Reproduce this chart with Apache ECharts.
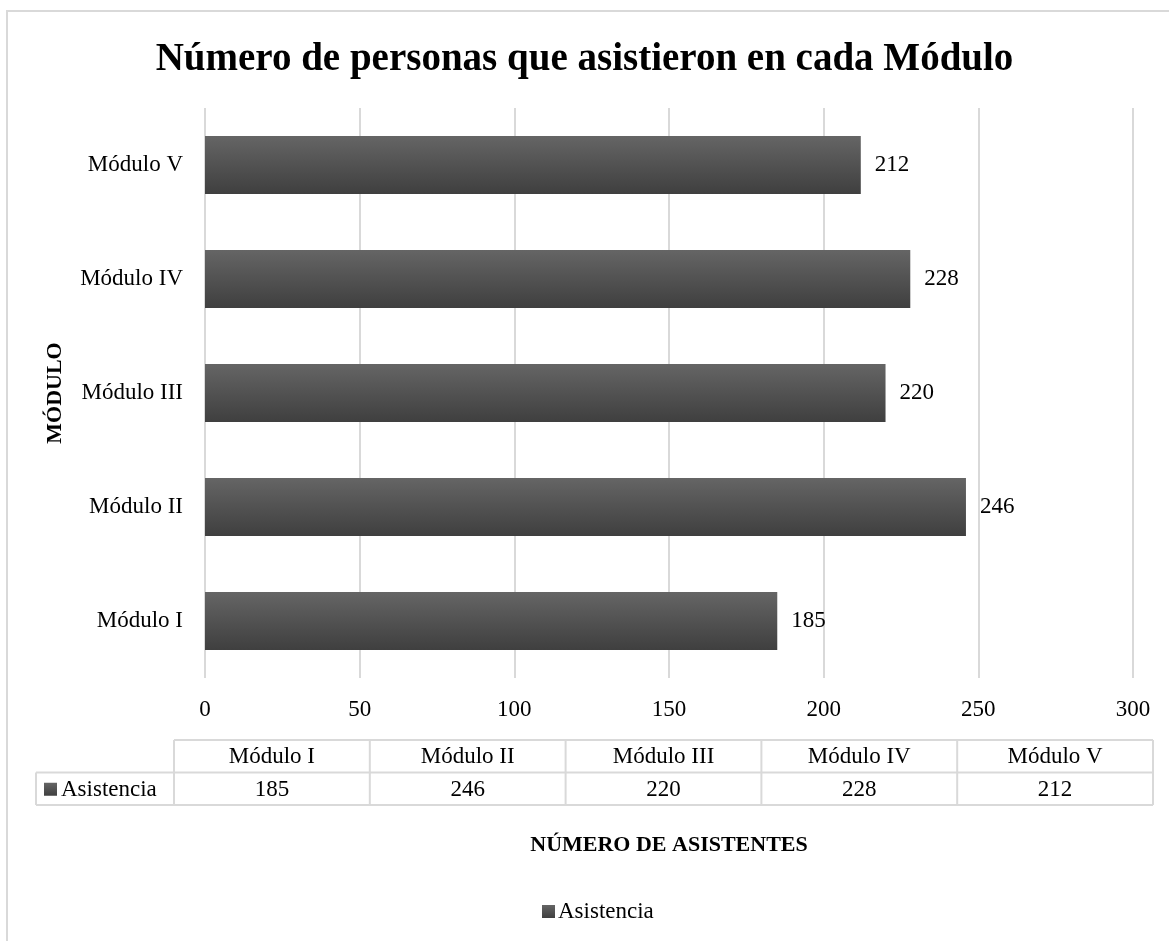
<!DOCTYPE html>
<html>
<head>
<meta charset="utf-8">
<script src="https://cdn.jsdelivr.net/npm/echarts@6/dist/echarts.min.js"></script>
<style>
html,body{margin:0;padding:0;background:#fff;}
#c{width:1169px;height:941px;}
</style>
</head>
<body>
<div id="c"></div>
<script>
const categories = ['Módulo I', 'Módulo II', 'Módulo III', 'Módulo IV', 'Módulo V'];
const seriesName = 'Asistencia';
const values = [185, 246, 220, 228, 212];
const xTicks = [0, 50, 100, 150, 200, 250, 300];
const titleText = 'Número de personas que asistieron en cada Módulo';
const xAxisTitle = 'NÚMERO DE ASISTENTES';
const yAxisTitle = 'MÓDULO';

const FONT = '"Liberation Serif", "DejaVu Serif", serif';
const FS = 23;
const barGrad = new echarts.graphic.LinearGradient(0, 0, 0, 1, [
  {offset: 0, color: '#656565'},
  {offset: 1, color: '#3f3f3f'}
]);

const chart = echarts.init(document.getElementById('c'), null, {renderer: 'canvas'});

// data table graphics (built from arrays)
const tbl = [];
const lineColor = '#d9d9d9';
const colLeft = 174, colW = 195.8, rowTop = 740, rowH = 32.5, labelLeft = 36;
const nCols = categories.length;
const tableRight = colLeft + colW * nCols;
// outer chart border
tbl.push({type: 'rect', shape: {x: 7, y: 11, width: 1180, height: 960}, style: {fill: null, stroke: lineColor, lineWidth: 2}, silent: true});
// horizontal lines
tbl.push({type: 'line', shape: {x1: colLeft, y1: rowTop, x2: tableRight, y2: rowTop}, style: {stroke: lineColor, lineWidth: 2}});
tbl.push({type: 'line', shape: {x1: labelLeft, y1: rowTop + rowH, x2: tableRight, y2: rowTop + rowH}, style: {stroke: lineColor, lineWidth: 2}});
tbl.push({type: 'line', shape: {x1: labelLeft, y1: rowTop + 2 * rowH, x2: tableRight, y2: rowTop + 2 * rowH}, style: {stroke: lineColor, lineWidth: 2}});
// vertical lines
tbl.push({type: 'line', shape: {x1: labelLeft, y1: rowTop + rowH, x2: labelLeft, y2: rowTop + 2 * rowH}, style: {stroke: lineColor, lineWidth: 2}});
for (let i = 0; i <= nCols; i++) {
  const x = colLeft + colW * i;
  tbl.push({type: 'line', shape: {x1: x, y1: rowTop, x2: x, y2: rowTop + 2 * rowH}, style: {stroke: lineColor, lineWidth: 2}});
}
categories.forEach((c, i) => {
  const cx = colLeft + colW * (i + 0.5);
  tbl.push({type: 'text', x: cx, y: rowTop + rowH / 2 + 1, style: {text: c, font: FS + 'px ' + FONT, fill: '#000', align: 'center', verticalAlign: 'middle'}});
  tbl.push({type: 'text', x: cx, y: rowTop + rowH * 1.5 + 1, style: {text: String(values[i]), font: FS + 'px ' + FONT, fill: '#000', align: 'center', verticalAlign: 'middle'}});
});
tbl.push({type: 'rect', shape: {x: 44, y: rowTop + rowH * 1.5 - 6, width: 13, height: 13}, style: {fill: barGrad}});
tbl.push({type: 'text', x: 61, y: rowTop + rowH * 1.5 + 1, style: {text: seriesName, font: FS + 'px ' + FONT, fill: '#000', align: 'left', verticalAlign: 'middle'}});

chart.setOption({
  backgroundColor: '#fff',
  animation: false,
  title: {
    text: titleText,
    left: 'center',
    top: 35,
    textStyle: {fontFamily: FONT, fontWeight: 'bold', fontSize: 39, color: '#000'}
  },
  legend: {
    data: [seriesName],
    left: 537,
    top: 895,
    icon: 'rect',
    itemWidth: 13,
    itemHeight: 13,
    itemGap: 4,
    textStyle: {fontFamily: FONT, fontSize: FS, color: '#000', padding: [0, 0, 0, -2]}
  },
  grid: {left: 205, right: 36, top: 108, height: 570, containLabel: false},
  xAxis: {
    type: 'value',
    min: 0,
    max: 300,
    interval: 50,
    name: xAxisTitle,
    nameLocation: 'middle',
    nameGap: 156,
    nameTextStyle: {fontFamily: FONT, fontWeight: 'bold', fontSize: 22, color: '#000'},
    axisLine: {show: false},
    axisTick: {show: false},
    splitLine: {show: true, lineStyle: {color: '#d9d9d9', width: 2}},
    axisLabel: {
      margin: 20,
      fontFamily: FONT, fontSize: FS, color: '#000',
      formatter: v => xTicks.includes(v) ? String(v) : ''
    }
  },
  yAxis: {
    type: 'category',
    data: categories,
    name: yAxisTitle,
    nameLocation: 'middle',
    nameRotate: 90,
    nameGap: 139,
    nameTextStyle: {fontFamily: FONT, fontWeight: 'bold', fontSize: 22, color: '#000'},
    axisLine: {show: false},
    axisTick: {show: false},
    splitLine: {show: false},
    axisLabel: {margin: 22, fontFamily: FONT, fontSize: FS, color: '#000'}
  },
  series: [{
    name: seriesName,
    type: 'bar',
    data: values,
    barWidth: 58,
    itemStyle: {color: barGrad},
    label: {
      show: true,
      position: 'right',
      distance: 14,
      fontFamily: FONT, fontSize: FS, color: '#000'
    }
  }],
  graphic: tbl
});
</script>
</body>
</html>
